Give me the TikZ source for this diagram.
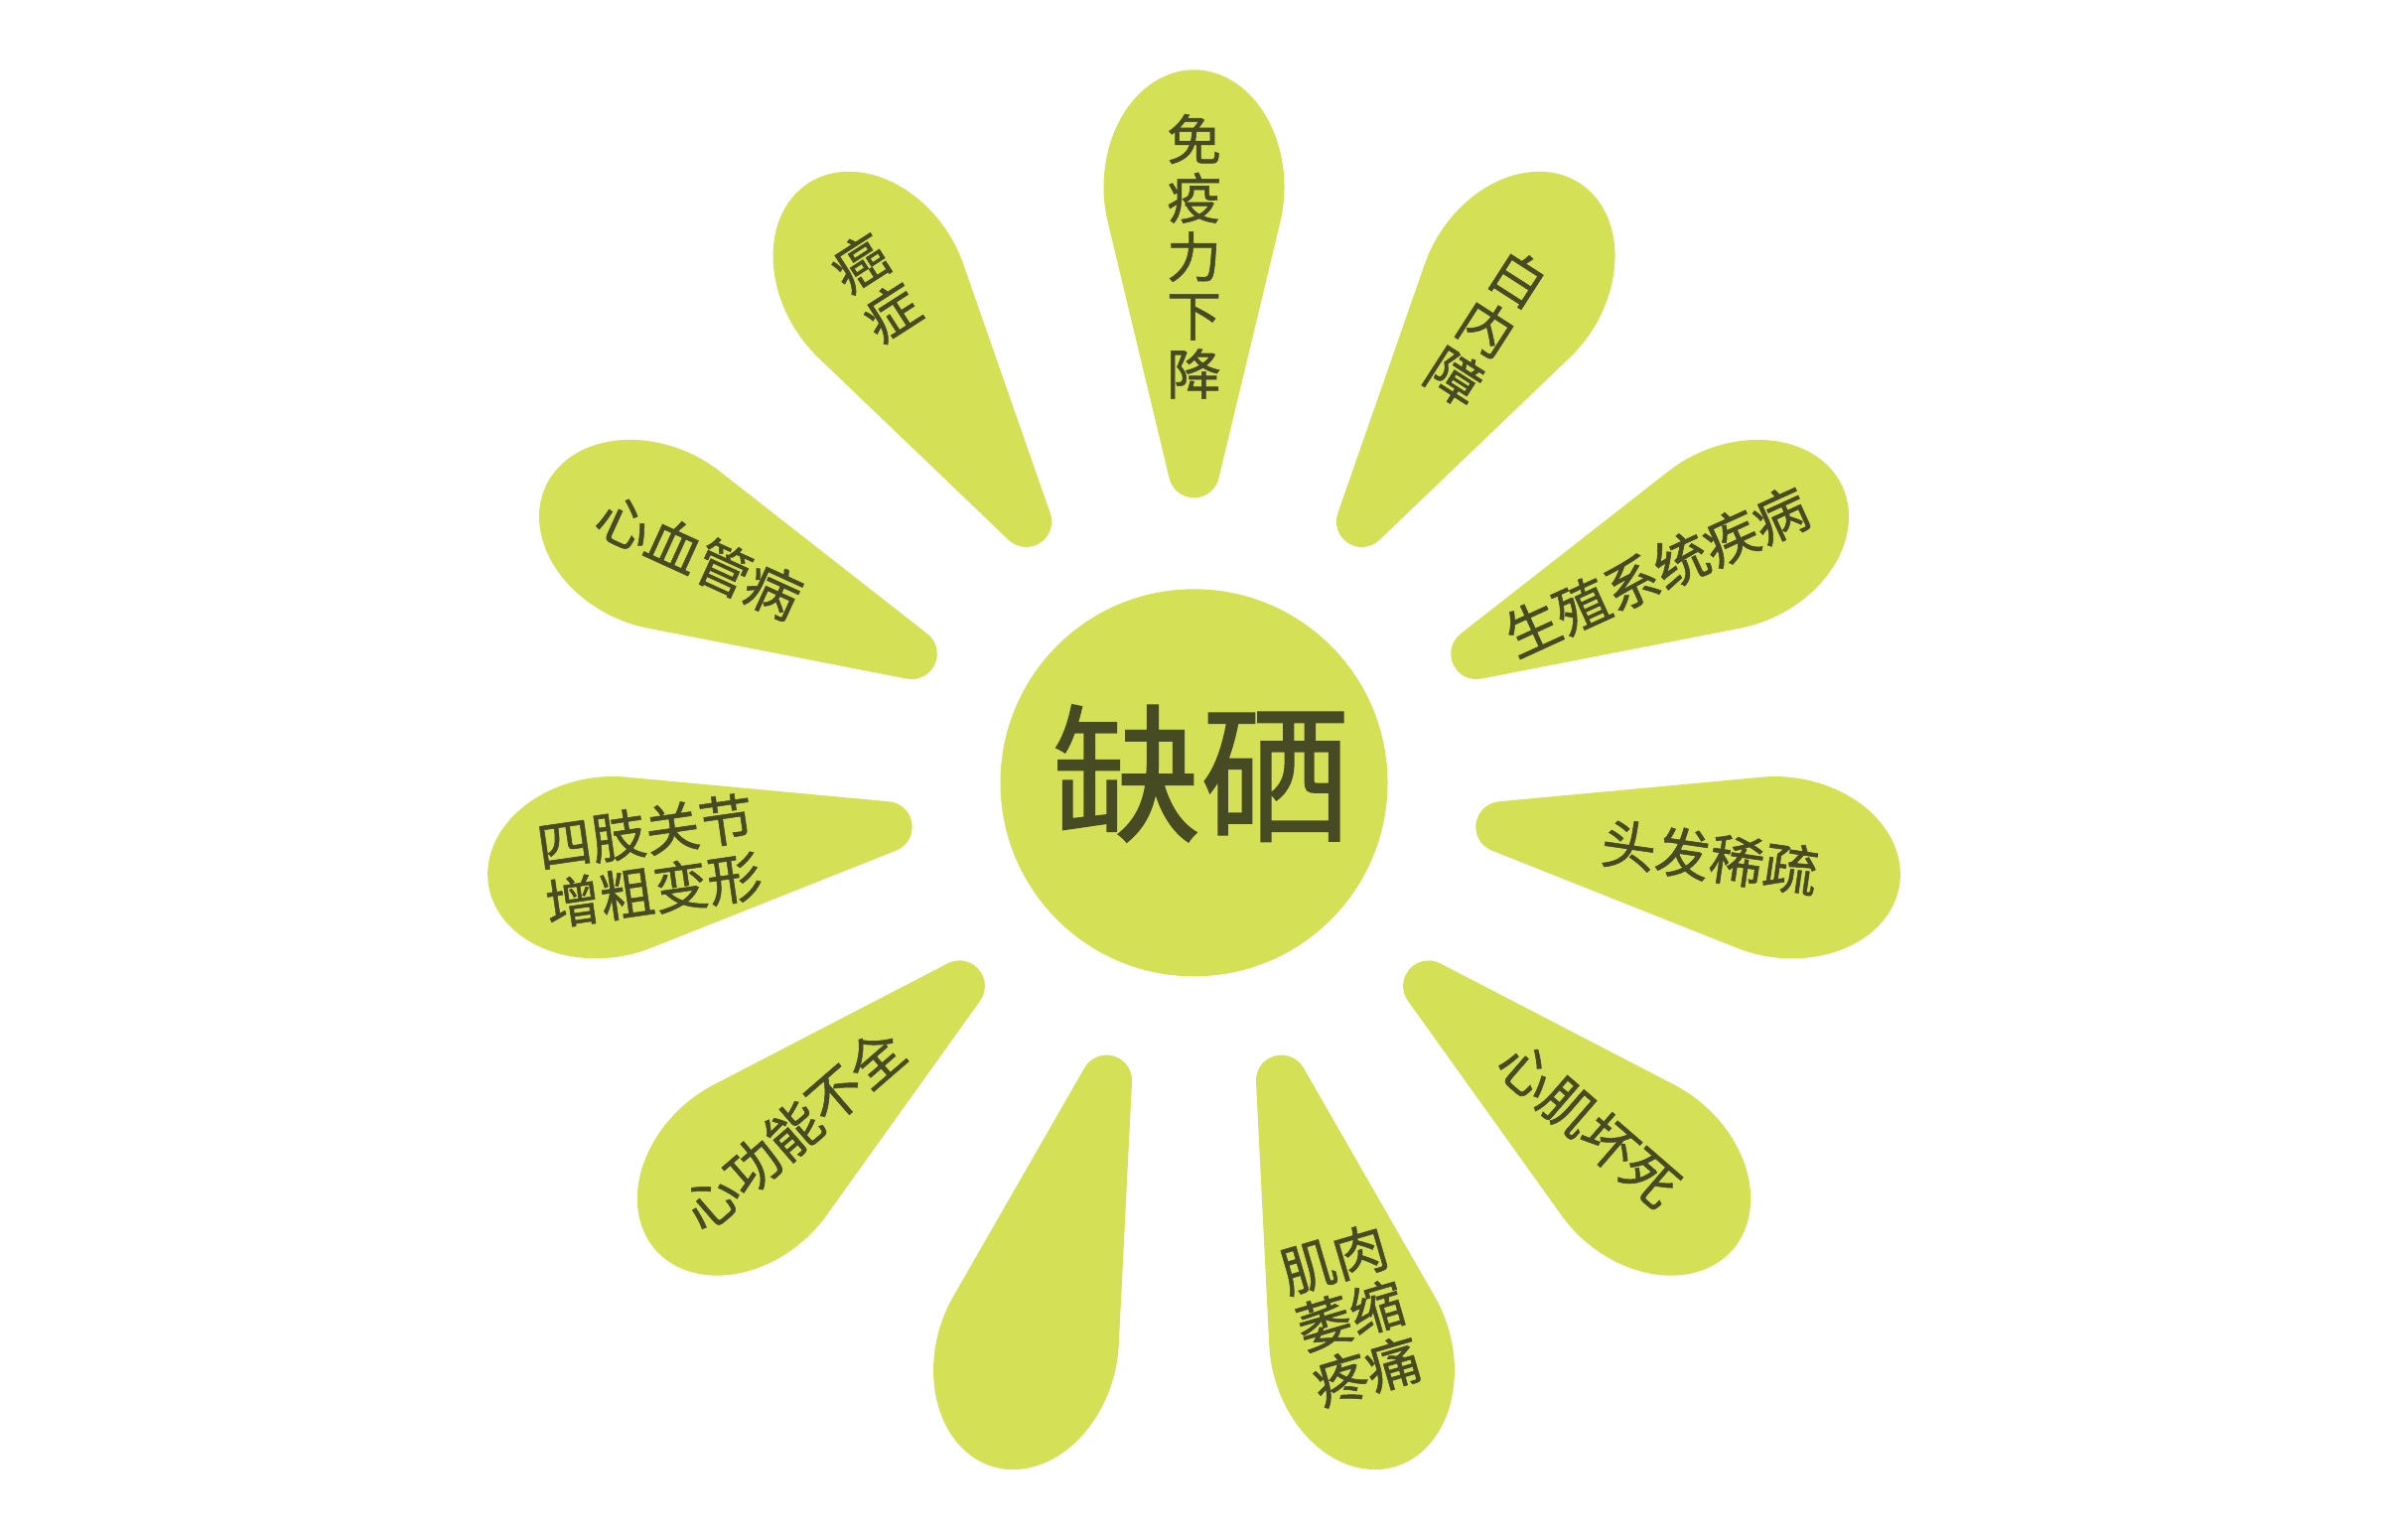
\documentclass[tikz,border=0pt]{standalone}
\usepackage{fontspec}
\newfontfamily\cjk{Noto Sans CJK SC}[FakeBold=1]
\definecolor{petalfill}{RGB}{212,225,87}
\definecolor{textcol}{RGB}{71,75,35}
\begin{document}
\begin{tikzpicture}[
  petaltext/.style={text=textcol, font=\cjk\fontsize{15.6pt}{16.8pt}\selectfont, align=center, inner sep=0pt},
  hub/.style={circle, fill=petalfill, minimum size=3.9cm, inner sep=0pt},
  pics/petal/.style={code={
    \fill[petalfill] (3.066,0.249) arc[start angle=103.5, end angle=256.5, radius=0.256]
      -- (5.649,-0.869) arc[start angle=-107.29, end angle=107.29, x radius=1.18, y radius=0.91] -- cycle;
  }}
]
\useasboundingbox (0,0) rectangle (24,-15.5);
\coordinate (C) at (12.025,-7.883);
\foreach \a in {90,57.273,24.545,-8.182,-40.909,-73.636,-106.364,-139.091,-171.818,155.455,122.727}
  \pic[rotate=\a] at (C) {petal};
\node[hub] (center) at (C) {};
\node[text=textcol, font=\cjk\fontsize{42.7pt}{44pt}\selectfont, inner sep=0pt] (title) at (12.095,-7.79) {缺硒};
\node[petaltext] (t1) at ([shift={(90:5.30)}]C) {免\\疫\\力\\下\\降};
\node[petaltext, rotate=-32.727] (t2) at ([shift={(57.273:5.45)}]C) {白\\内\\障};
\node[petaltext, rotate=24.545] (t3) at ([shift={(24.545:5.12)}]C) {生殖系统疾病};
\node[petaltext, rotate=-8.182] (t4) at ([shift={(-8.182:5.25)}]C) {头发稀疏};
\node[petaltext, rotate=-40.909] (t5) at ([shift={(-40.909:5.26)}]C) {心肌坏死};
\node[petaltext, rotate=16.364] (t6) at ([shift={(-73.636:5.59)}]C) {肌肉\\萎缩\\疼痛};
\node[petaltext, rotate=40.909] (t7) at ([shift={(-139.091:5.34)}]C) {心功能不全};
\node[petaltext, rotate=8.182] (t8) at ([shift={(-171.818:5.54)}]C) {四肢关节\\增粗变形};
\node[petaltext, rotate=-24.545] (t9) at ([shift={(155.455:5.48)}]C) {心血管病};
\node[petaltext, rotate=32.727] (t10) at ([shift={(122.727:5.93)}]C) {癌\\症};
\end{tikzpicture}
\end{document}
